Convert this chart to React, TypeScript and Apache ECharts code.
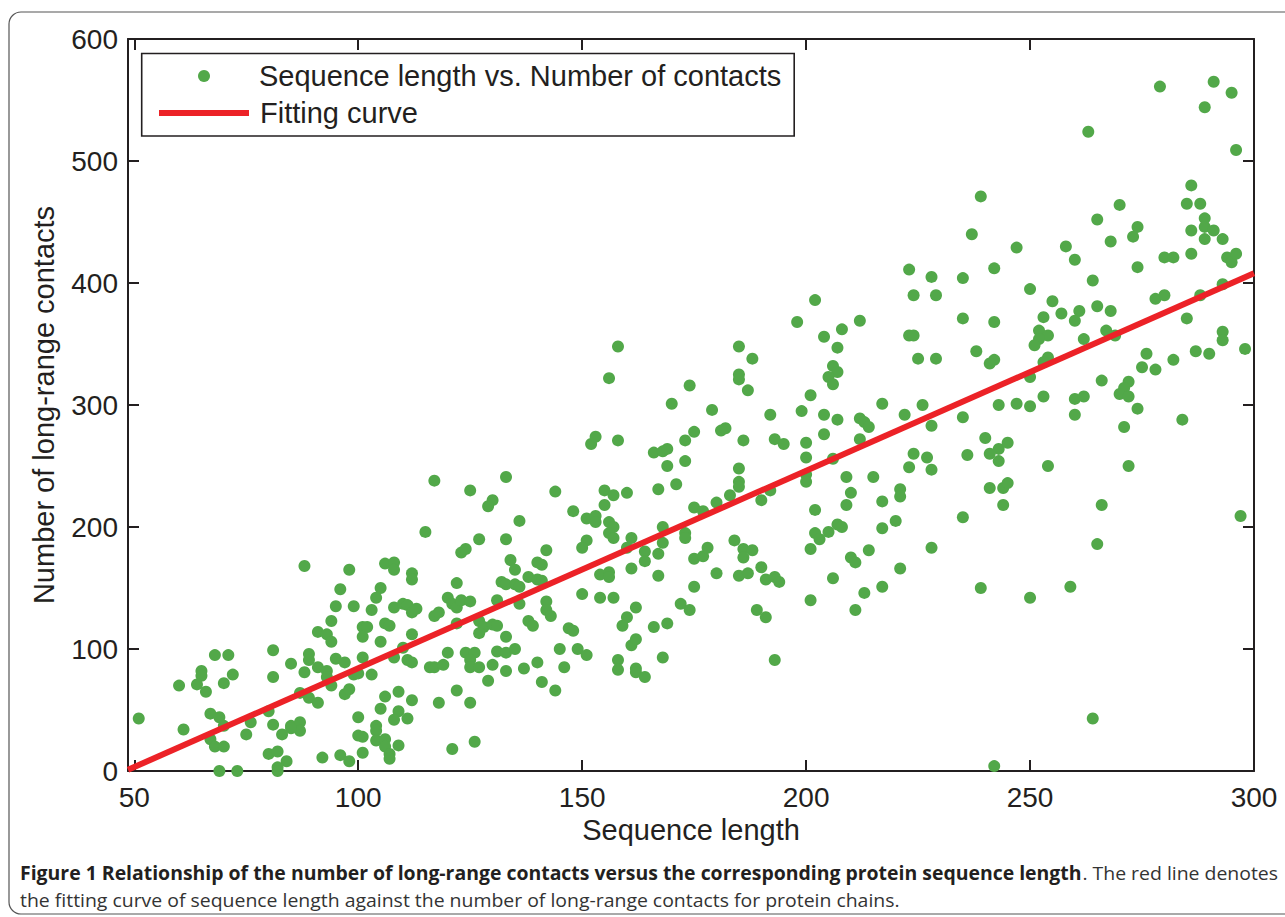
import React, { useEffect, useRef } from "react";
import * as echarts from "echarts";

// ---- data: [sequence length, number of long-range contacts]
const ptsShort: number[][] = [
  [88,168],[98,165],[106,170],[108,171],[108,165],[112,162],[112,157],[96,149],[105,150],[104,142],[95,135],[99,135],[103,132],[108,134],[110,137],[111,136],[112,130],[94,123],[91,114],[93,112],[94,106],[101,118],[102,118],[101,110],[106,121],[107,119],[105,106],[112,112],[68,95],[71,95],[81,99],[89,96],[89,91],[95,92],[97,89],[101,93],[108,93],[111,91],[112,89],[65,82],[65,78],[72,79],[81,77],[85,88],[88,81],[91,85],[93,82],[93,77],[94,70],[99,79],[100,80],[103,79],[60,70],[64,71],[66,65],[70,72],[87,64],[89,60],[91,56],[97,63],[98,67],[106,61],[109,65],[112,58],[51,43],[67,47],[69,44],[70,37],[76,40],[80,49],[81,38],[85,37],[87,40],[87,33],[85,35],[83,30],[75,30],[61,34],[67,26],[68,20],[70,20],[100,44],[105,51],[109,49],[108,42],[111,43],[104,37],[104,33],[104,25],[100,29],[101,28],[106,26],[106,20],[107,14],[107,10],[109,21],[101,15],[80,14],[82,16],[84,8],[82,3],[82,0],[92,11],[96,13],[98,8],[69,0],[73,0]
];
const ptsMid: number[][] = [
  [170,301],[152,268],[153,274],[158,271],[166,261],[168,262],[169,264],[169,250],[173,271],[175,278],[173,254],[117,238],[133,241],[125,230],[130,222],[129,217],[144,229],[155,230],[157,226],[160,228],[167,231],[171,235],[155,218],[148,213],[151,207],[153,209],[153,204],[136,205],[175,216],[115,196],[156,204],[157,200],[156,195],[157,191],[168,200],[173,195],[173,191],[133,190],[127,190],[123,179],[124,182],[142,181],[151,189],[150,183],[161,191],[160,183],[168,187],[164,180],[164,172],[167,178],[175,174],[134,173],[135,165],[140,171],[141,169],[138,159],[140,157],[141,156],[122,154],[132,155],[133,153],[135,153],[136,151],[136,137],[154,161],[156,163],[156,159],[161,166],[167,160],[175,151],[150,145],[154,142],[157,142],[113,133],[120,142],[121,137],[122,134],[123,140],[125,139],[131,140],[142,139],[142,132],[143,127],[162,134],[160,126],[159,119],[172,137],[174,132],[117,127],[118,130],[127,123],[128,118],[127,113],[122,121],[130,120],[131,119],[138,123],[139,119],[147,117],[148,115],[166,118],[169,121],[110,101],[133,110],[161,103],[162,108],[120,97],[124,97],[126,97],[125,91],[125,85],[127,85],[131,98],[133,97],[135,100],[130,87],[145,100],[149,100],[151,95],[140,89],[158,91],[158,83],[168,93],[116,85],[117,85],[119,87],[133,82],[137,84],[146,85],[162,84],[162,81],[164,77],[129,74],[141,73],[144,66],[122,66],[118,56],[125,56],[121,18],[126,24],
  [158,348],[156,322],[174,316]
];
const ptsUpperMid: number[][] = [
  [179,296],[192,292],[199,295],[204,292],[207,288],[217,301],[222,292],[226,300],[212,289],[213,286],[214,282],[235,290],[181,279],[182,281],[186,271],[193,272],[195,268],[200,269],[204,276],[212,272],[228,283],[200,257],[206,256],[185,248],[185,237],[185,233],[183,226],[180,220],[177,213],[190,222],[192,230],[200,243],[200,237],[209,241],[215,241],[224,260],[227,257],[228,247],[223,249],[236,259],[210,228],[209,218],[221,231],[221,225],[217,221],[202,214],[202,195],[203,190],[205,196],[207,202],[208,200],[217,199],[220,205],[235,208],[184,189],[186,182],[186,175],[188,181],[177,176],[178,183],[201,182],[210,175],[211,171],[214,181],[228,183],[180,162],[185,160],[187,162],[190,167],[191,157],[193,159],[194,155],[206,158],[221,166],[213,146],[217,151],[201,140],[189,132],[191,126],[211,132],[193,91],
  [237,440],[223,411],[228,405],[235,404],[224,390],[229,390],[202,386],[198,368],[212,369],[204,356],[208,362],[207,347],[235,371],[223,357],[224,357],[185,348],[188,338],[185,325],[185,321],[187,312],[206,332],[207,327],[205,323],[206,317],[225,338],[229,338],[201,308]
];
const ptsLong: number[][] = [
  [243,300],[247,301],[250,299],[260,292],[274,297],[271,282],[284,288],[240,273],[243,264],[245,269],[241,260],[243,254],[254,250],[272,250],[241,232],[244,232],[245,236],[244,218],[266,218],[297,209],[265,186],[239,150],[250,142],[259,151],[264,43],[242,4],
  [279,561],[291,565],[295,556],[289,544],[263,524],[296,509],[286,480],[239,471],[270,464],[285,465],[288,465],[265,452],[289,453],[289,446],[291,443],[286,443],[274,446],[273,438],[268,434],[289,436],[293,436],[258,430],[247,429],[260,419],[280,421],[282,421],[286,424],[294,421],[295,417],[296,424],[242,412],[274,413],[264,402],[250,395],[293,399],[288,390],[278,387],[280,390],[255,385],[265,381],[268,377],[261,377],[260,369],[257,375],[253,372],[242,368],[285,371],[252,361],[254,357],[252,354],[251,349],[267,361],[269,357],[262,354],[293,360],[293,353],[238,344],[242,337],[241,334],[254,339],[253,335],[250,323],[276,342],[275,331],[278,329],[282,337],[287,344],[290,342],[298,346],[266,320],[272,319],[271,314],[270,309],[272,307],[253,307],[260,305],[262,307]
];

const fitLengths = [48.6, 300];
const fitContacts = [1, 408];

const xTicks = [50, 100, 150, 200, 250, 300];

const scatterName = "Sequence length vs. Number of contacts";
const fitName = "Fitting curve";
const xTitle = "Sequence length";
const yTitle = "Number of long-range contacts";
const captionBold = "Figure 1 Relationship of the number of long-range contacts versus the corresponding protein sequence length";
const captionRest1 = ". The red line denotes";
const captionLine2 = "the fitting curve of sequence length against the number of long-range contacts for protein chains.";

const INK = "#231f20";
const GREEN = "#52a849";
const RED = "#ec2227";
const FONT = "'Liberation Sans', Arial, Helvetica, sans-serif";
const CAP_FONT = "'Open Sans', 'Noto Sans', sans-serif";

function measure(text: string, font: string): number {
  const c = document.createElement("canvas");
  const ctx = c.getContext("2d");
  if (!ctx) return text.length * 9;
  ctx.font = font;
  return ctx.measureText(text).width;
}

export default function App() {
  const ref = useRef<HTMLDivElement>(null);

  useEffect(() => {
    if (!ref.current) return;
    const chart = echarts.init(ref.current, undefined, { renderer: "svg" });

    const capSize = 19;
    const w1 =
      measure(captionBold, `bold ${capSize}px 'Open Sans'`) +
      measure(captionRest1, `${capSize}px 'Open Sans'`);
    const capScale = (1278 - 20) / w1;

    const allPts = [...ptsShort, ...ptsMid, ...ptsUpperMid, ...ptsLong];
    const fitData = fitLengths.map((x, i) => [x, fitContacts[i]]);

    const axisLine = { show: true, onZero: false, lineStyle: { color: INK, width: 2 } };
    const tickStyle = { color: INK, width: 2 };

    const option: any = {
      animation: false,
      backgroundColor: "#fff",
      grid: { left: 128, right: 31, top: 39, bottom: 146, containLabel: false },
      xAxis: [
        {
          type: "value", min: 48.6, max: 300, position: "bottom",
          axisLine,
          axisTick: { show: true, inside: true, length: 11, customValues: xTicks, lineStyle: tickStyle },
          axisLabel: { customValues: xTicks, fontSize: 28, color: INK, fontFamily: FONT, margin: 12 },
          splitLine: { show: false },
          name: xTitle, nameLocation: "middle", nameGap: 42,
          nameTextStyle: { fontSize: 29, color: INK, fontFamily: FONT },
        },
        {
          type: "value", min: 48.6, max: 300, position: "top",
          axisLine,
          axisTick: { show: true, inside: true, length: 11, customValues: xTicks, lineStyle: tickStyle },
          axisLabel: { show: false },
          splitLine: { show: false },
        },
      ],
      yAxis: [
        {
          type: "value", min: 0, max: 600, interval: 100, position: "left",
          axisLine,
          axisTick: { show: true, inside: true, length: 11, lineStyle: tickStyle },
          axisLabel: { fontSize: 28, color: INK, fontFamily: FONT, margin: 10 },
          splitLine: { show: false },
          name: yTitle, nameLocation: "middle", nameGap: 70,
          nameTextStyle: { fontSize: 29, color: INK, fontFamily: FONT },
        },
        {
          type: "value", min: 0, max: 600, interval: 100, position: "right",
          axisLine,
          axisTick: { show: true, inside: true, length: 11, lineStyle: tickStyle },
          axisLabel: { show: false },
          splitLine: { show: false },
        },
      ],
      legend: [
        {
          data: [{ name: scatterName, icon: "circle" }],
          left: 198, top: 59, padding: 0, itemWidth: 12, itemHeight: 12,
          selectedMode: false, z: 5,
          textStyle: { fontSize: 29, color: INK, fontFamily: FONT, lineHeight: 34, padding: [0, 0, 0, 44] },
        },
        {
          data: [{ name: fitName, icon: "rect" }],
          left: 159, top: 96, padding: 0, itemWidth: 90, itemHeight: 6,
          selectedMode: false, z: 5,
          textStyle: { fontSize: 29, color: INK, fontFamily: FONT, lineHeight: 34, padding: [0, 0, 0, 6] },
        },
      ],
      graphic: [
        {
          type: "rect", z: -10, silent: true,
          shape: { x: 9, y: 12, width: 1290, height: 902, r: 12 },
          style: { fill: "none", stroke: "#555", lineWidth: 1.2 },
        },
        {
          type: "rect", z: 3, silent: true,
          shape: { x: 141.7, y: 53.5, width: 652.5, height: 82.5 },
          style: { fill: "#fff", stroke: INK, lineWidth: 1.6 },
        },
        {
          type: "text", x: 20, y: 873, scaleX: capScale, silent: true,
          style: {
            x: 0, y: 0, verticalAlign: "middle", align: "left",
            text: `{b|${captionBold}}{n|${captionRest1}}`,
            rich: {
              b: { fontSize: capSize, fontWeight: "bold", fontFamily: CAP_FONT, fill: INK },
              n: { fontSize: capSize, fontFamily: CAP_FONT, fill: "#333" },
            },
          },
        },
        {
          type: "text", x: 20, y: 900, scaleX: capScale, silent: true,
          style: {
            x: 0, y: 0, verticalAlign: "middle", align: "left",
            text: captionLine2, fontSize: capSize, fontFamily: CAP_FONT, fill: "#333",
          },
        },
      ],
      series: [
        {
          name: scatterName, type: "scatter", data: allPts,
          symbol: "circle", symbolSize: 12,
          itemStyle: { color: GREEN, opacity: 1 },
          xAxisIndex: 0, yAxisIndex: 0, z: 2,
        },
        {
          name: fitName, type: "line", data: fitData,
          showSymbol: false, symbol: "none",
          lineStyle: { color: RED, width: 6 },
          itemStyle: { color: RED },
          xAxisIndex: 0, yAxisIndex: 0, z: 3,
        },
      ],
    };

    chart.setOption(option);
    return () => chart.dispose();
  }, []);

  return (
    <div
      ref={ref}
      style={{ position: "absolute", left: 0, top: 0, width: 1285, height: 917, background: "#fff" }}
    />
  );
}
